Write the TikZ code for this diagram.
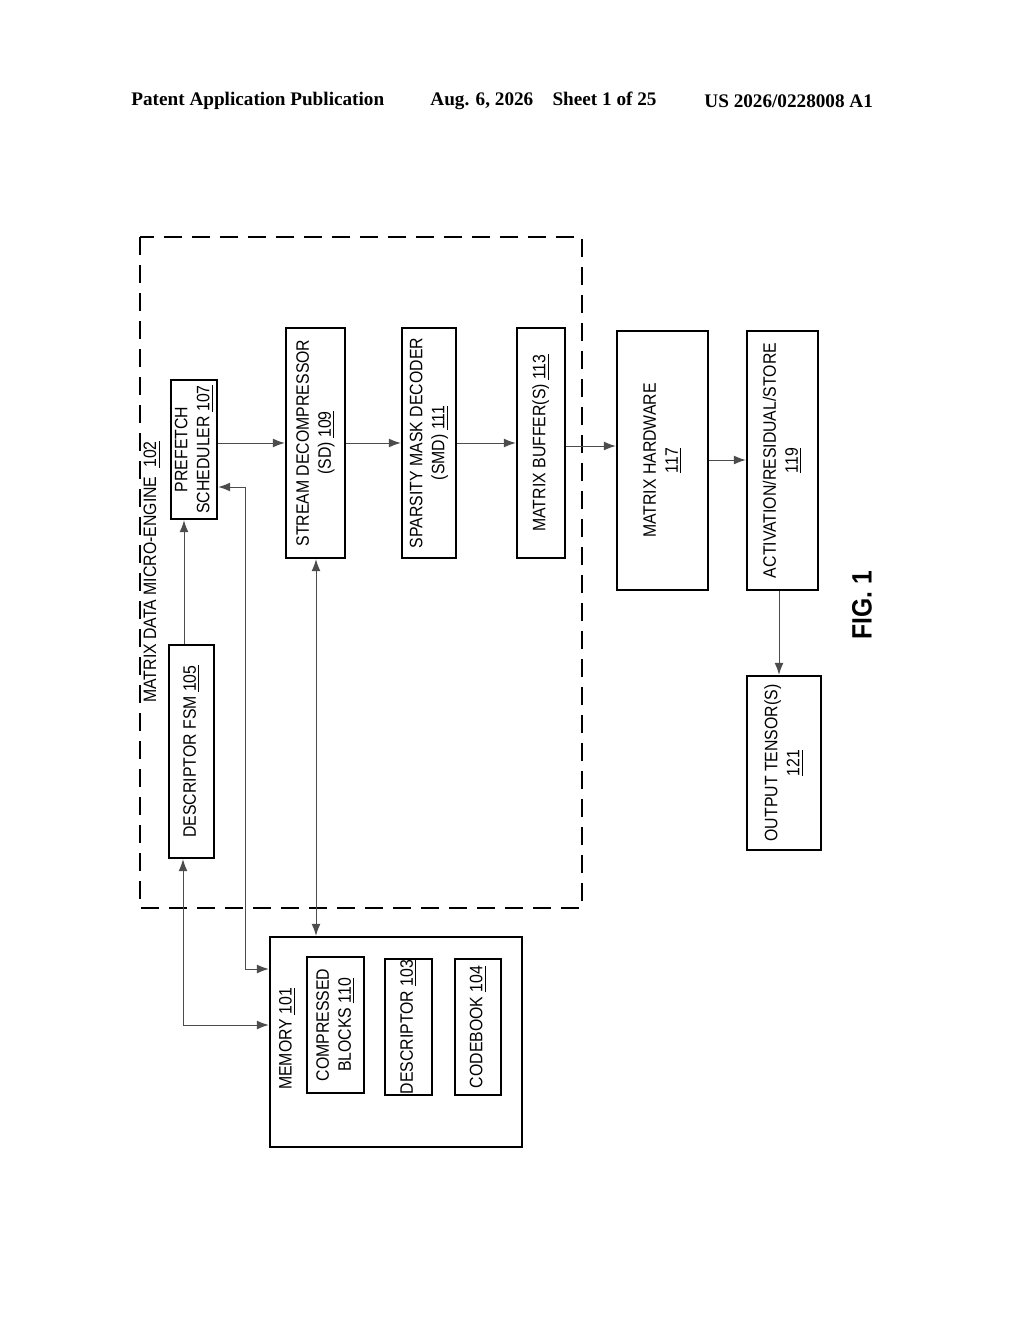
\documentclass[tikz,border=0pt]{standalone}
\usepackage{fontspec}
\setmainfont{Liberation Sans}[FakeStretch=0.88]
\newfontfamily\hdr{Liberation Serif}
\usetikzlibrary{arrows.meta}
\newcommand{\rt}[1]{\rotatebox{90}{\begin{tabular}{@{}c@{}}#1\end{tabular}}}
\newcommand{\un}[1]{\underline{#1}}
\begin{document}
\begin{tikzpicture}[x=0.5pt,y=-0.5pt,
  box/.style={draw,line width=1.2pt,inner sep=0pt,font=\fontsize{9}{11}\selectfont},
  hd/.style={font=\hdr\bfseries\fontsize{9.6}{12}\selectfont,anchor=west,inner sep=0pt},
  con/.style={draw=black!70,line width=0.5pt,-{Latex[length=6pt,width=4.5pt]}},
  bcon/.style={draw=black!70,line width=0.5pt,{Latex[length=6pt,width=4.5pt]}-{Latex[length=6pt,width=4.5pt]}}]
\useasboundingbox (0,0) rectangle (1024,1320);
\node[hd] (h1) at (131,101) {Patent Application Publication};
\node[hd] (h2) at (430,101) {Aug. 6, 2026\quad Sheet 1 of 25};
\node[hd] (h3) at (704,101) {US 2026/0228008 A1};
% dashed engine box
\draw[line width=1.2pt,dash pattern=on 9pt off 5pt] (140,237) rectangle (582,908);
\node[font=\fontsize{9}{11}\selectfont] (eng) at (152,572) {\rotatebox{90}{MATRIX DATA MICRO-ENGINE\ \ \un{102}}};
% boxes
\node[box,minimum width=23pt,minimum height=69.5pt] (ps) at (194,449.5) {\rt{PREFETCH\\SCHEDULER \un{107}}};
\node[box,minimum width=22.5pt,minimum height=106.5pt] (fsm) at (191.5,751.5) {\rt{DESCRIPTOR FSM \un{105}}};
\node[box,minimum width=29.5pt,minimum height=115pt] (sd) at (315.5,443) {\rt{STREAM DECOMPRESSOR\\(SD) \un{109}}};
\node[box,minimum width=27pt,minimum height=115pt] (smd) at (429,443) {\rt{SPARSITY MASK DECODER\\(SMD) \un{111}}};
\node[box,minimum width=24pt,minimum height=115pt] (mb) at (541,443) {\rt{MATRIX BUFFER(S) \un{113}}};
\node[box,minimum width=45.5pt,minimum height=129.5pt] (mh) at (662.5,460.5) {\rt{MATRIX HARDWARE\\\un{117}}};
\node[box,minimum width=35.5pt,minimum height=129.5pt] (act) at (782.5,460.5) {\rt{ACTIVATION/RESIDUAL/STORE\\\un{119}}};
\node[box,minimum width=37pt,minimum height=87pt] (out) at (784,763) {\rt{OUTPUT TENSOR(S)\\\un{121}}};
\node[font=\bfseries\fontsize{14}{16}\selectfont] (fig) at (862,605) {\rotatebox{90}{FIG. 1}};
% memory
\node[box,minimum width=126pt,minimum height=105pt] (mem) at (396,1042) {};
\node[font=\fontsize{9}{11}\selectfont,anchor=south west] (meml) at (272,1097) {\rotatebox{90}{MEMORY \un{101}}};
\node[box,minimum width=28.5pt,minimum height=68pt] (cb) at (335.5,1025) {\rt{COMPRESSED\\BLOCKS \un{110}}};
\node[box,minimum width=23.5pt,minimum height=68pt] (desc) at (408.5,1027) {\rt{DESCRIPTOR \un{103}}};
\node[box,minimum width=23pt,minimum height=68pt] (cbk) at (478,1027) {\rt{CODEBOOK \un{104}}};
% connectors
\draw[con] (ps.east |- 0,443) -- (sd.west |- 0,443);
\draw[con] (sd.east |- 0,443) -- (smd.west |- 0,443);
\draw[con] (smd.east |- 0,443) -- (mb.west |- 0,443);
\draw[con] (mb.east |- 0,446) -- (mh.west |- 0,446);
\draw[con] (mh.east |- 0,460) -- (act.west |- 0,460);
\draw[con] (act.south -| 779,0) -- (out.north -| 779,0);
\draw[con] (fsm.north -| 184,0) -- (ps.south -| 184,0);
\draw[bcon] (fsm.south -| 183,0) -- (183,1025) -- (mem.west |- 0,1025);
\draw[bcon] (mem.west |- 0,969) -- (245,969) -- (245,487) -- (ps.east |- 0,487);
\draw[bcon] (sd.south -| 316,0) -- (mem.north -| 316,0);
\end{tikzpicture}
\end{document}
